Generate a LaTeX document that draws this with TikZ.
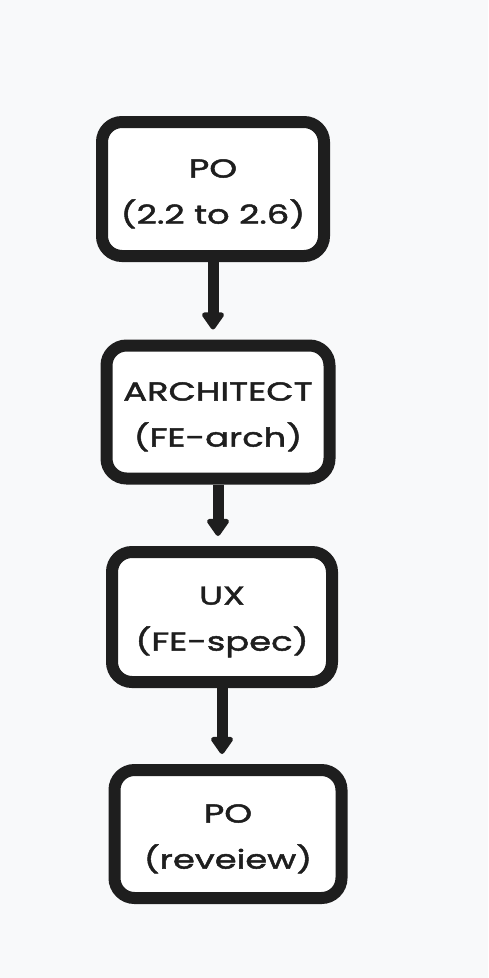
\documentclass[tikz,border=0pt]{standalone}
\usepackage{fontspec}
\setmainfont{Poppins}[FakeStretch=1.36, FakeBold=1.8]
\usetikzlibrary{arrows.meta}
\definecolor{ink}{HTML}{1E1E1E}
\definecolor{bg}{HTML}{F8F9FA}
\newcommand{\lift}{\rule{0pt}{28pt}}
\tikzset{
  box/.style={draw=ink, fill=white, line width=12pt, rounded corners=20pt,
    align=center, text=ink, font=\fontsize{26}{46}\selectfont},
  arr/.style={draw=ink, line width=11pt,
    -{Triangle[round, width=25pt, length=19pt]}, shorten >=10pt}
}
\begin{document}
\begin{tikzpicture}[x=1pt, y=-1pt]
  \fill[bg] (0,0) rectangle (488,978);
  \useasboundingbox (0,0) rectangle (488,978);
  \node[box, minimum width=222pt, minimum height=134pt] (b1) at (213,189) {\lift PO\\(2.2 to 2.6)};
  \node[box, minimum width=223pt, minimum height=133pt] (b2) at (218,412) {\lift ARCHITECT\\(FE-arch)};
  \node[box, minimum width=220pt, minimum height=130pt] (b3) at (222,617) {\lift UX\\(FE-spec)};
  \node[box, minimum width=227pt, minimum height=128pt] (b4) at (228,834) {\lift PO\\(reveiew)};
  \draw[arr] (b1.south) -- (b1.south |- b2.north);
  \draw[arr] (b2.south) -- (b2.south |- b3.north);
  \draw[arr] (b3.south) -- (b3.south |- b4.north);
\end{tikzpicture}
\end{document}
